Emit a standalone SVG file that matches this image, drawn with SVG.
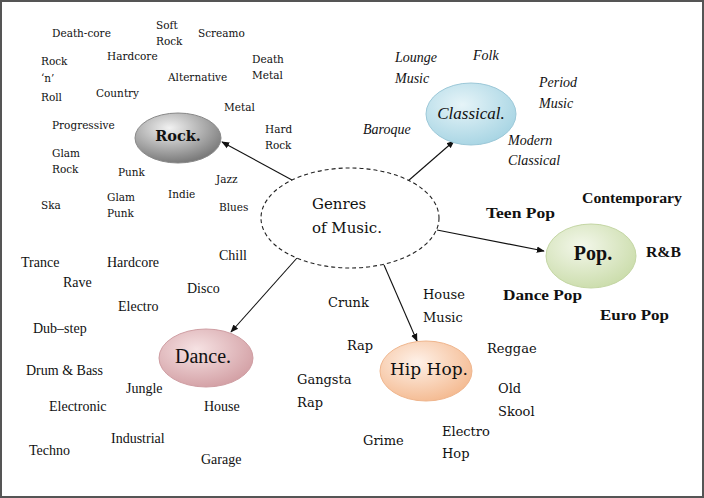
<svg xmlns="http://www.w3.org/2000/svg" width="704" height="498" viewBox="0 0 704 498">
<style>
.rk{font-family:"DejaVu Serif","Liberation Serif",serif;font-size:10.5px;fill:#111}
.cl{font-family:"Liberation Serif",serif;font-style:italic;font-size:14px;fill:#111}
.pp{font-family:"Liberation Serif",serif;font-weight:bold;font-size:14px;fill:#111}
.dn{font-family:"Liberation Serif",serif;font-size:14px;fill:#111}
.hh{font-family:"DejaVu Serif","Liberation Serif",serif;font-size:13px;fill:#111}
.conn{stroke:#111;stroke-width:1.1;fill:none;marker-end:url(#ah)}
</style>
<defs>
<marker id="ah" viewBox="0 0 10 10" refX="9" refY="5" markerWidth="8" markerHeight="8" markerUnits="userSpaceOnUse" orient="auto">
<path d="M0,1 L10,5 L0,9 Z" fill="#111"/>
</marker>
<radialGradient id="gRock" cx="40%" cy="30%" r="70%">
<stop offset="0" stop-color="#f2f2f2"/><stop offset="1" stop-color="#7a7a7a"/>
</radialGradient>
<radialGradient id="gCl" cx="40%" cy="35%" r="70%">
<stop offset="0" stop-color="#e6f4f8"/><stop offset="1" stop-color="#a6d4e3"/>
</radialGradient>
<radialGradient id="gPop" cx="40%" cy="35%" r="70%">
<stop offset="0" stop-color="#f3f7ea"/><stop offset="1" stop-color="#cadcaa"/>
</radialGradient>
<radialGradient id="gDance" cx="40%" cy="35%" r="70%">
<stop offset="0" stop-color="#f6e2e3"/><stop offset="1" stop-color="#d29ea3"/>
</radialGradient>
<radialGradient id="gHip" cx="40%" cy="35%" r="70%">
<stop offset="0" stop-color="#fef1e8"/><stop offset="1" stop-color="#f4b98f"/>
</radialGradient>
</defs>
<rect x="0" y="0" width="704" height="498" fill="#fff"/>
<rect x="1" y="1" width="702" height="496" fill="none" stroke="#555" stroke-width="2"/>

<g id="connectors">
<line class="conn" x1="292" y1="180" x2="222" y2="142"/>
<line class="conn" x1="408" y1="181" x2="454" y2="141"/>
<line class="conn" x1="437" y1="230" x2="544" y2="251"/>
<line class="conn" x1="297" y1="258" x2="231" y2="332"/>
<line class="conn" x1="384" y1="265" x2="417" y2="341"/>
</g>

<g id="center">
<ellipse cx="350" cy="218" rx="89" ry="50" fill="#fff" stroke="#222" stroke-width="1.1" stroke-dasharray="4,3"/>
<text x="312" y="209" font-family="DejaVu Serif, Liberation Serif, serif" font-size="15" fill="#111">Genres</text>
<text x="312" y="233" font-family="DejaVu Serif, Liberation Serif, serif" font-size="15" fill="#111">of Music.</text>
</g>

<g id="rock">
<ellipse cx="178" cy="138" rx="43" ry="25" fill="url(#gRock)" stroke="#888" stroke-width="1"/>
<text x="178" y="141" text-anchor="middle" font-family="DejaVu Serif, Liberation Serif, serif" font-weight="bold" font-size="14.5" fill="#111">Rock.</text>
<text class="rk" x="52" y="37">Death-core</text>
<text class="rk" x="156" y="29">Soft</text>
<text class="rk" x="156" y="45">Rock</text>
<text class="rk" x="198" y="37">Screamo</text>
<text class="rk" x="107" y="60">Hardcore</text>
<text class="rk" x="41" y="65">Rock</text>
<text class="rk" x="41" y="82">‘n’</text>
<text class="rk" x="41" y="101">Roll</text>
<text class="rk" x="252" y="63">Death</text>
<text class="rk" x="252" y="79">Metal</text>
<text class="rk" x="168" y="81">Alternative</text>
<text class="rk" x="96" y="97">Country</text>
<text class="rk" x="224" y="111">Metal</text>
<text class="rk" x="52" y="129">Progressive</text>
<text class="rk" x="265" y="133">Hard</text>
<text class="rk" x="265" y="149">Rock</text>
<text class="rk" x="52" y="157">Glam</text>
<text class="rk" x="52" y="173">Rock</text>
<text class="rk" x="118" y="176">Punk</text>
<text class="rk" x="216" y="183">Jazz</text>
<text class="rk" x="168" y="198">Indie</text>
<text class="rk" x="41" y="209">Ska</text>
<text class="rk" x="107" y="201">Glam</text>
<text class="rk" x="107" y="217">Punk</text>
<text class="rk" x="219" y="211">Blues</text>
</g>

<g id="classical">
<ellipse cx="471" cy="114" rx="45" ry="31" fill="url(#gCl)" stroke="#9cc8d8" stroke-width="1"/>
<text x="471" y="119" text-anchor="middle" font-family="Liberation Serif, serif" font-style="italic" font-size="17" fill="#111">Classical.</text>
<text class="cl" x="395" y="62">Lounge</text>
<text class="cl" x="395" y="83">Music</text>
<text class="cl" x="473" y="60">Folk</text>
<text class="cl" x="539" y="87">Period</text>
<text class="cl" x="539" y="108">Music</text>
<text class="cl" x="363" y="134">Baroque</text>
<text class="cl" x="508" y="145">Modern</text>
<text class="cl" x="508" y="165">Classical</text>
</g>

<g id="pop">
<ellipse cx="591" cy="256" rx="45" ry="32" fill="url(#gPop)" stroke="#c4d6a4" stroke-width="1"/>
<text x="593" y="260" text-anchor="middle" font-family="Liberation Serif, serif" font-weight="bold" font-size="20" fill="#111">Pop.</text>
<text class="pp" x="582" y="203" textLength="100" lengthAdjust="spacingAndGlyphs">Contemporary</text>
<text class="pp" x="486" y="218" textLength="69" lengthAdjust="spacingAndGlyphs">Teen Pop</text>
<text class="pp" x="646" y="257" textLength="35" lengthAdjust="spacingAndGlyphs">R&amp;B</text>
<text class="pp" x="503" y="300" textLength="79" lengthAdjust="spacingAndGlyphs">Dance Pop</text>
<text class="pp" x="600" y="320" textLength="69" lengthAdjust="spacingAndGlyphs">Euro Pop</text>
</g>

<g id="dance">
<ellipse cx="206" cy="358" rx="47" ry="29" fill="url(#gDance)" stroke="#cf9ea3" stroke-width="1"/>
<text x="203" y="363" text-anchor="middle" font-family="Liberation Serif, serif" font-size="20" fill="#111">Dance.</text>
<text class="dn" x="21" y="267">Trance</text>
<text class="dn" x="107" y="267">Hardcore</text>
<text class="dn" x="219" y="260">Chill</text>
<text class="dn" x="63" y="287">Rave</text>
<text class="dn" x="187" y="293">Disco</text>
<text class="dn" x="118" y="311">Electro</text>
<text class="dn" x="33" y="333">Dub–step</text>
<text class="dn" x="26" y="375">Drum &amp; Bass</text>
<text class="dn" x="126" y="393">Jungle</text>
<text class="dn" x="49" y="411">Electronic</text>
<text class="dn" x="204" y="411">House</text>
<text class="dn" x="111" y="443">Industrial</text>
<text class="dn" x="29" y="455">Techno</text>
<text class="dn" x="201" y="464">Garage</text>
</g>

<g id="hiphop">
<ellipse cx="426" cy="371" rx="46" ry="30" fill="url(#gHip)" stroke="#efb68e" stroke-width="1"/>
<text x="429" y="375" text-anchor="middle" font-family="DejaVu Serif, Liberation Serif, serif" font-size="17" fill="#111">Hip Hop.</text>
<text class="hh" x="328" y="307">Crunk</text>
<text class="hh" x="423" y="299">House</text>
<text class="hh" x="423" y="322">Music</text>
<text class="hh" x="347" y="350">Rap</text>
<text class="hh" x="487" y="353">Reggae</text>
<text class="hh" x="297" y="384">Gangsta</text>
<text class="hh" x="297" y="407">Rap</text>
<text class="hh" x="498" y="393">Old</text>
<text class="hh" x="498" y="416">Skool</text>
<text class="hh" x="442" y="436">Electro</text>
<text class="hh" x="442" y="458">Hop</text>
<text class="hh" x="363" y="445">Grime</text>
</g>
</svg>
